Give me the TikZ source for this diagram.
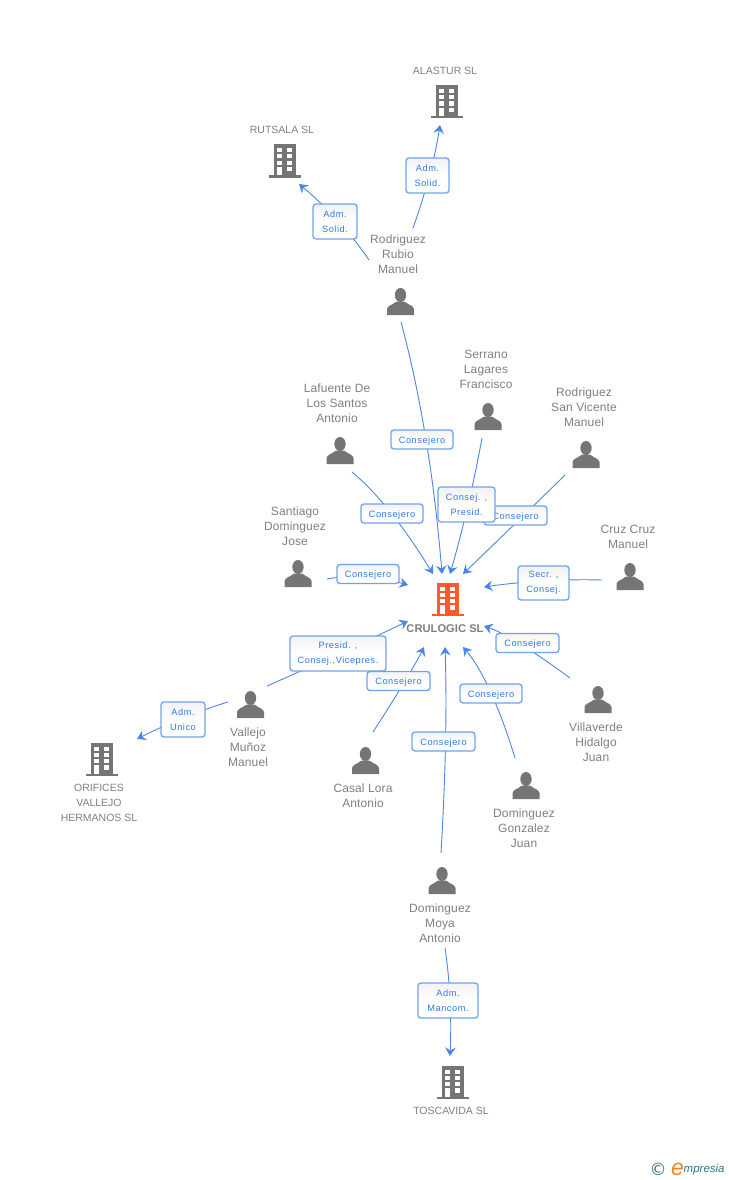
\documentclass[tikz,border=0pt]{standalone}
\usepackage{fontspec}
\setmainfont{Liberation Sans}
\newfontfamily\symbolfam{DejaVu Sans}
\usetikzlibrary{arrows.meta,backgrounds,calc}
\definecolor{icongray}{HTML}{757575}
\definecolor{txtgray}{HTML}{7F7F7F}
\definecolor{mainorange}{HTML}{FF5A2B}
\definecolor{linkblue}{HTML}{4A86E4}
\definecolor{boxblue}{HTML}{6FA3EC}
\definecolor{labblue}{HTML}{2F7BE2}
\definecolor{logoteal}{HTML}{2F7488}
\definecolor{logoorange}{HTML}{F58220}
\tikzset{
  person/.style={font=\fontsize{12}{15}\selectfont\addfontfeature{LetterSpace=1},text=txtgray,align=center,inner sep=0pt},
  firm/.style={font=\fontsize{10.5}{15}\selectfont,text=txtgray,align=center,inner sep=0pt},
  rel/.style={draw=boxblue,line width=1.3pt,rounded corners=3pt,top color=black!5,bottom color=white,middle color=white,
    text=labblue,font=\fontsize{9.2}{15}\selectfont\addfontfeature{LetterSpace=6},align=center,inner sep=0pt,anchor=center},
  relone/.style={rel,minimum height=19pt,text height=9pt,text depth=2pt},
  conn/.style={draw=linkblue,line width=0.9pt,-{Stealth[length=8.5pt,width=10.5pt,inset=3pt]}},
  pics/humanicon/.style={code={
    \fill[icongray] (0,-6.5) ellipse [x radius=5.7,y radius=7];
    \fill[icongray] (-13.5,13.5) -- (-13.5,7.5) .. controls (-13,4) and (-8,3.5) .. (-4,0) -- (4,0) .. controls (8,3.5) and (13,4) .. (13.5,7.5) -- (13.5,13.5) -- cycle;
  }},
  pics/tower/.style={code={
    \fill[#1] (-11.3,-16.5) rectangle (11.3,16);
    \fill[#1] (-16,14.5) rectangle (16,17);
    \foreach \yy in {-12.5,-6.3,0} {
      \fill[white] (-8,\yy) rectangle (-3,\yy+4.2);
      \fill[white] (2,\yy) rectangle (7,\yy+4.2);
    }
    \fill[white] (-8,6.2) rectangle (-3,14.5);
    \fill[white] (2,6.2) rectangle (7,10.6);
  }},
  pics/tower/.default=icongray
}
% start, point on the curve, end: a parabola through the three
\newcommand{\conn}[3]{\draw[conn] (#1) .. controls ($(#2)!-0.3333!(#3)$) and ($(#2)!-0.3333!(#1)$) .. (#3);}
\begin{document}
\begin{tikzpicture}[x=1pt,y=-1pt]
\useasboundingbox (0,0) rectangle (728,1180);

% firms
\pic at (447,101.5) {tower};
\pic at (285,160.5) {tower};
\pic at (102,759) {tower};
\pic at (453,1082) {tower};
\pic at (448,599) {tower=mainorange};
\node[firm] (alastur) at (445,71) {ALASTUR SL};
\node[firm] (rutsala) at (282,130) {RUTSALA SL};
\node[firm] (orifices) at (99,803) {ORIFICES\\VALLEJO\\HERMANOS SL};
\node[firm] (toscavida) at (451,1111) {TOSCAVIDA SL};
\node[font=\fontsize{11.2}{15}\selectfont\bfseries,text=txtgray,inner sep=0pt] (crulogic) at (445,628.5) {CRULOGIC SL};

% people
\pic at (400.5,301.5) {humanicon};
\pic at (488,416.5) {humanicon};
\pic at (586,454.5) {humanicon};
\pic at (340,450.5) {humanicon};
\pic at (298,573.5) {humanicon};
\pic at (630,576.5) {humanicon};
\pic at (598,699.5) {humanicon};
\pic at (250.5,704.5) {humanicon};
\pic at (365.5,760.5) {humanicon};
\pic at (526,785.5) {humanicon};
\pic at (442,880.5) {humanicon};
\node[person] (rubio) at (398,254) {Rodriguez\\Rubio\\Manuel};
\node[person] (serrano) at (486,369) {Serrano\\Lagares\\Francisco};
\node[person] (sanvicente) at (584,407) {Rodriguez\\San Vicente\\Manuel};
\node[person] (lafuente) at (337,403) {Lafuente De\\Los Santos\\Antonio};
\node[person] (santiago) at (295,526) {Santiago\\Dominguez\\Jose};
\node[person] (cruz) at (628,536.5) {Cruz Cruz\\Manuel};
\node[person] (villaverde) at (596,742) {Villaverde\\Hidalgo\\Juan};
\node[person] (vallejo) at (248,747) {Vallejo\\Muñoz\\Manuel};
\node[person] (casal) at (363,795.5) {Casal Lora\\Antonio};
\node[person] (gonzalez) at (524,828) {Dominguez\\Gonzalez\\Juan};
\node[person] (moya) at (440,923) {Dominguez\\Moya\\Antonio};

% relation labels
\node[rel,minimum width=43pt,minimum height=35pt] (l1) at (427.5,175.5) {Adm.\hspace{3pt}\\Solid.};
\node[rel,minimum width=44pt,minimum height=35pt] (l2) at (335,221.5) {Adm.\hspace{3pt}\\Solid.};
\node[relone,minimum width=62pt] (l3) at (422,439.5) {Consejero};
\node[relone,minimum width=63pt] (l5) at (515.5,515.5) {Consejero};
\node[rel,minimum width=57pt,minimum height=35pt] (l4) at (466.5,504.5) {Consej. ,\\Presid.};
\node[relone,minimum width=62pt] (l6) at (392,513.5) {Consejero};
\node[relone,minimum width=62pt] (l7) at (368,574) {Consejero};
\node[rel,minimum width=51pt,minimum height=34pt] (l8) at (543.5,583) {Secr. ,\\Consej.};
\node[relone,minimum width=63pt] (l9) at (527.5,643) {Consejero};
\node[rel,minimum width=96pt,minimum height=35pt] (l10) at (338,653.5) {Presid. ,\\Consej.,Vicepres.};
\node[relone,minimum width=63pt] (l11) at (398.5,681) {Consejero};
\node[relone,minimum width=62pt] (l12) at (491,693.5) {Consejero};
\node[relone,minimum width=63pt] (l13) at (443.5,741.5) {Consejero};
\node[rel,minimum width=44pt,minimum height=35pt] (l14) at (183,719.5) {Adm.\hspace{3pt}\\Unico};
\node[rel,minimum width=60pt,minimum height=35pt] (l15) at (448,1000.5) {Adm.\hspace{3pt}\\Mancom.};

% connector ends and a point each curve passes under its label
\coordinate (s1) at (413,228);   \coordinate (v1) at (429.5,175);  \coordinate (e1) at (440,125);
\coordinate (s2) at (369,260);   \coordinate (v2) at (338,221);    \coordinate (e2) at (299,184);
\coordinate (s3) at (401,322);   \coordinate (v3) at (426,440);    \coordinate (e3) at (442,574);
\coordinate (s4) at (482,438);   \coordinate (v4) at (468,505);    \coordinate (e4) at (450,574);
\coordinate (s5) at (565,475);   \coordinate (v5) at (523,516);    \coordinate (e5) at (463,574);
\coordinate (s6) at (352,472);   \coordinate (v6) at (391,513);    \coordinate (e6) at (433,574);
\coordinate (s7) at (327,579);   \coordinate (v7) at (365,577);    \coordinate (e7) at (408,585);
\coordinate (s8) at (602,580);   \coordinate (v8) at (543,581);    \coordinate (e8) at (484,587);
\coordinate (s9) at (570,678);   \coordinate (v9) at (520,644);    \coordinate (e9) at (484,626);
\coordinate (s10) at (267,686);  \coordinate (v10) at (338,654);   \coordinate (e10) at (408,621);
\coordinate (s11) at (373,732);  \coordinate (v11) at (405,681);   \coordinate (e11) at (424,647);
\coordinate (s12) at (515,758);  \coordinate (v12) at (490,691);   \coordinate (e12) at (463,647);
\coordinate (s13) at (441,853);  \coordinate (v13) at (445.5,742); \coordinate (e13) at (445,647);
\coordinate (s14) at (228,702);  \coordinate (v14) at (183,718);   \coordinate (e14) at (137,739);
\coordinate (s15) at (445,948);  \coordinate (v15) at (450,1000);  \coordinate (e15) at (450,1056);

\begin{scope}[on background layer]
\conn{s1}{v1}{e1}
\conn{s2}{v2}{e2}
\conn{s3}{v3}{e3}
\conn{s4}{v4}{e4}
\conn{s5}{v5}{e5}
\conn{s6}{v6}{e6}
\conn{s7}{v7}{e7}
\conn{s8}{v8}{e8}
\conn{s9}{v9}{e9}
\conn{s10}{v10}{e10}
\conn{s11}{v11}{e11}
\conn{s12}{v12}{e12}
\conn{s13}{v13}{e13}
\conn{s14}{v14}{e14}
\conn{s15}{v15}{e15}
\end{scope}

% logo
\node[inner sep=0pt,text=logoteal,font=\fontsize{17}{17}\selectfont\symbolfam] (copyr) at (658,1169) {©};
\node[inner sep=0pt,text=logoorange,font=\fontsize{23}{23}\selectfont\itshape] (logoe) at (677.5,1169) {e};
\node[inner sep=0pt,anchor=west,text=logoteal,font=\fontsize{11.5}{12}\selectfont\itshape] (logot) at (683.5,1170) {mpresia};
\end{tikzpicture}
\end{document}
